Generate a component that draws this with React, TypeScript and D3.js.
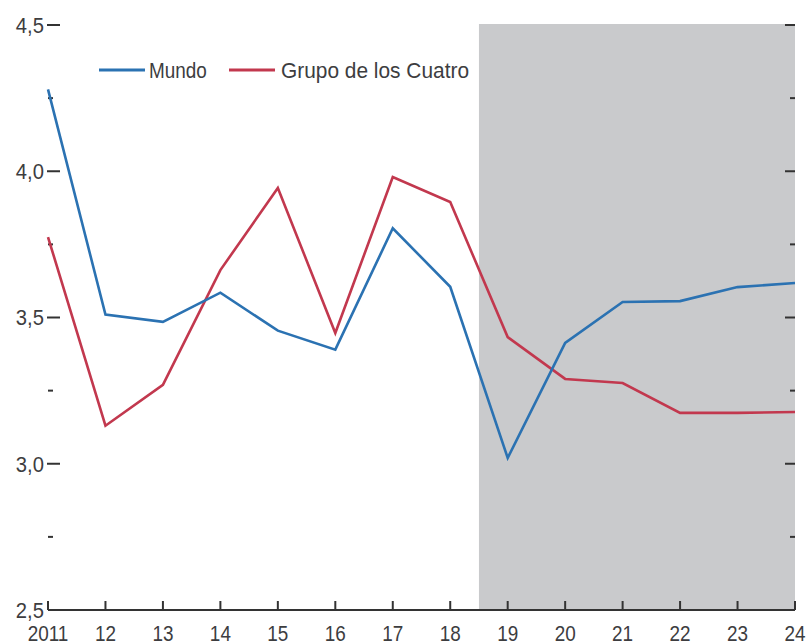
import React from "react";
import * as d3 from "d3";

const years = [2011, 2012, 2013, 2014, 2015, 2016, 2017, 2018, 2019, 2020, 2021, 2022, 2023, 2024];
const xTickLabels = ["2011", "12", "13", "14", "15", "16", "17", "18", "19", "20", "21", "22", "23", "24"];
const mundo = [4.28, 3.51, 3.485, 3.585, 3.455, 3.39, 3.805, 3.605, 3.02, 3.413, 3.553, 3.556, 3.604, 3.618];
const grupo = [3.775, 3.13, 3.27, 3.662, 3.943, 3.447, 3.98, 3.895, 3.433, 3.29, 3.276, 3.174, 3.174, 3.177];
const yMajor = [2.5, 3.0, 3.5, 4.0, 4.5];
const yMajorLabels = ["2,5", "3,0", "3,5", "4,0", "4,5"];
const yMinor = [2.75, 3.25, 3.75, 4.25];
const shadeStart = 2018.5;
const seriesNames = ["Mundo", "Grupo de los Cuatro"];
const seriesColors = ["#2b72b2", "#c2384e"];

export default function App() {
  const W = 811, H = 644;
  const x = d3.scaleLinear().domain([2011, 2024]).range([48, 795]);
  const y = d3.scaleLinear().domain([2.5, 4.5]).range([610, 25]);
  const line = d3.line<number>().x((_, i) => x(years[i])).y((d) => y(d));
  const font = "'Liberation Sans', Arial, sans-serif";
  const textColor = "#3d3d3f";
  const x0 = x.range()[0], x1 = x.range()[1];

  return (
    <svg width={W} height={H} style={{ position: "absolute", left: 0, top: 0, background: "#fff" }}>
      <rect x={x(shadeStart)} y={y(4.5) - 1} width={x1 - x(shadeStart)} height={y(2.5) - y(4.5) + 1} fill="#c9cacc" />
      {yMajor.map((v, i) => (
        <g key={"ym" + v}>
          {v !== 2.5 && <line x1={47} x2={60} y1={y(v)} y2={y(v)} stroke="#333" strokeWidth={2} />}
          <g transform={`translate(44,${y(v)}) scale(0.92,1)`}>
            <text x={0} y={0} dy="0.36em" textAnchor="end" fontFamily={font} fontSize={22} fill={textColor}>
              {yMajorLabels[i]}
            </text>
          </g>
          {v !== 2.5 && <line x1={785} x2={795} y1={y(v)} y2={y(v)} stroke="#333" strokeWidth={2} />}
        </g>
      ))}
      {yMinor.map((v) => (
        <g key={"yn" + v}>
          <line x1={48} x2={53} y1={y(v)} y2={y(v)} stroke="#333" strokeWidth={2} />
          <line x1={790} x2={795} y1={y(v)} y2={y(v)} stroke="#333" strokeWidth={2} />
        </g>
      ))}
      <line x1={x0} x2={x1} y1={y(2.5)} y2={y(2.5)} stroke="#333" strokeWidth={2} />
      {years.map((yr, i) => (
        <g key={"xt" + yr}>
          <line x1={x(yr)} x2={x(yr)} y1={y(2.5)} y2={y(2.5) - 9} stroke="#333" strokeWidth={2} />
          <g transform={`translate(${x(yr)},641) scale(0.86,1)`}>
            <text x={0} y={0} textAnchor="middle" fontFamily={font} fontSize={22} fill={textColor}>
              {xTickLabels[i]}
            </text>
          </g>
        </g>
      ))}
      <path d={line(grupo) || ""} fill="none" stroke={seriesColors[1]} strokeWidth={2.6} strokeLinejoin="miter" />
      <path d={line(mundo) || ""} fill="none" stroke={seriesColors[0]} strokeWidth={2.6} strokeLinejoin="miter" />
      <g>
        <line x1={99} x2={145} y1={70} y2={70} stroke={seriesColors[0]} strokeWidth={3} />
        <g transform="translate(149,70) scale(0.86,1)">
          <text x={0} y={0} dy="0.36em" fontFamily={font} fontSize={22} fill={textColor}>{seriesNames[0]}</text>
        </g>
        <line x1={229} x2={275} y1={70} y2={70} stroke={seriesColors[1]} strokeWidth={3} />
        <g transform="translate(281,70) scale(0.95,1)">
          <text x={0} y={0} dy="0.36em" fontFamily={font} fontSize={22} fill={textColor}>{seriesNames[1]}</text>
        </g>
      </g>
    </svg>
  );
}
